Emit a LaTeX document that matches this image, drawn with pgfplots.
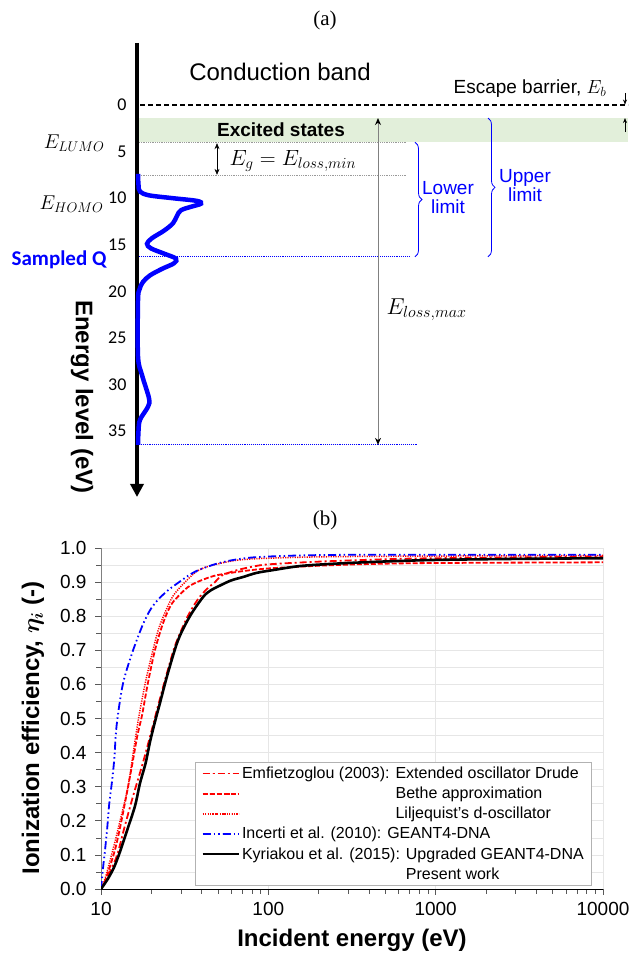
\RequirePackage{fix-cm}
\documentclass[border=0pt]{standalone}
\usepackage{amsmath}
\usepackage{pgfplots}
\pgfplotsset{compat=1.18}
\usepackage{pgfplotstable}
\usepackage{fontspec}
\setmainfont{Liberation Sans}
\newfontfamily\timesfont{Liberation Serif}
\newfontfamily\calibrifont{Carlito}
\usetikzlibrary{arrows.meta,decorations.pathreplacing}

\definecolor{bandgreen}{RGB}{226,239,218}
\definecolor{gridgray}{RGB}{230,230,230}
\definecolor{pureblue}{RGB}{0,0,255}
\definecolor{purered}{RGB}{255,0,0}

\newcommand\fs[1]{\fontsize{#1}{#1}\selectfont}

% density of states: w = offset from the energy axis, E = energy level (eV)
\pgfplotstableread{
w    E
1    7.4
1.5  8.6
3    9.3
12   9.7
35   10.0
60   10.3
64   10.6
55   10.9
44   11.3
40   11.9
36   12.7
27   13.5
15   14.3
10   14.9
14   15.4
28   16.0
39   16.5
37   17.0
25   17.6
13   18.3
6    19.0
2.5  19.8
1    21.0
1    27.0
5    29.0
12   31.5
11   32.4
3    33.8
1.5  35.0
1    36.5
}\dostable

% ionization efficiency versus incident energy (eV)
\pgfplotstableread{
E     eta
10    0
11.3  0.05
12.5  0.10
13.8  0.18
15.5  0.27
17.8  0.37
20.2  0.47
22    0.54
25    0.64
28    0.72
33    0.80
38    0.85
43    0.88
48    0.90
53    0.92
65    0.935
80    0.945
100   0.952
200   0.96
500   0.967
1000  0.97
10000 0.975
}\emfdrude

\pgfplotstableread{
E     eta
10    0
10.5  0.02
11.3  0.065
12.2  0.12
13    0.18
14    0.26
15.3  0.36
16.5  0.45
17.6  0.51
19    0.60
21    0.70
23.5  0.78
26    0.83
28.5  0.855
33    0.885
37.5  0.90
45    0.915
51.5  0.922
70    0.932
100   0.94
200   0.948
400   0.953
1000  0.956
10000 0.958
}\emfbethe

\pgfplotstableread{
E     eta
10    0
10.5  0.025
11    0.06
12    0.13
13    0.20
14.5  0.30
15.8  0.42
16.9  0.51
18.5  0.61
20.2  0.69
22    0.76
24.1  0.81
27    0.86
31.8  0.90
37    0.93
43    0.945
55    0.958
67.6  0.965
100   0.97
300   0.975
10000 0.978
}\emflilj

\pgfplotstableread{
E     eta
10    0
10.3  0.065
10.6  0.12
10.9  0.18
11.2  0.25
11.6  0.31
12    0.38
12.4  0.48
13.5  0.60
15.3  0.69
17.6  0.77
19.5  0.815
21.6  0.845
25    0.875
29.7  0.902
34    0.922
39    0.937
50    0.955
67.6  0.968
100   0.975
300   0.98
10000 0.98
}\incerti

\pgfplotstableread{
E     eta
10    0
11    0.03
12    0.065
13    0.11
14.5  0.18
16    0.245
17.1  0.31
18.5  0.37
19.6  0.43
21    0.49
22.5  0.545
25    0.63
28.9  0.73
34    0.80
40.7  0.856
45    0.875
51.5  0.89
60    0.905
70.7  0.915
85    0.927
106   0.935
154   0.947
250   0.954
468   0.96
1000  0.965
3000  0.968
10000 0.97
}\kyriakou

\begin{document}
\begin{tikzpicture}[x=1pt,y=1pt]
\useasboundingbox (0,0) rectangle (630,955);

% ---------------- (a) energy levels ----------------
\node[font=\timesfont\fs{21}] at (325,935) {(a)};
\node[font=\bfseries\fs{24}, rotate=-90] at (82,558) {Energy level (eV)};

\begin{axis}[
  at={(137pt,912pt)}, anchor=north west,
  scale only axis, width=491pt, height=454pt,
  xmin=0, xmax=491, ymin=-6.66, ymax=42.1, y dir=reverse,
  axis x line=none, axis y line=left,
  y axis line style={line width=3.5pt, -{Triangle[length=13pt,width=13pt]}},
  ytick={0,5,10,15,20,25,30,35}, major tick length=0pt,
  /pgf/number format/assume math mode=true,
  yticklabel style={font=\calibrifont\fs{18}, anchor=east, xshift=-7pt},
  clip=false,
]
  % excited-state band and escape level
  \fill[bandgreen] (axis cs:2,1.4) rectangle (axis cs:491,4.0);
  \addplot[black, line width=1.8pt, dash pattern=on 5pt off 3pt] coordinates {(3,0) (491,0)};
  % LUMO and gap edges
  \addplot[gray!80, line width=0.8pt, densely dotted] coordinates {(2,4.0) (270,4.0)};
  \addplot[gray!80, line width=0.8pt, densely dotted] coordinates {(2,7.6) (270,7.6)};
  % sampled and deepest loss levels
  \addplot[pureblue, line width=0.9pt, densely dotted] coordinates {(2,16.3) (272,16.3)};
  \addplot[pureblue, line width=0.9pt, densely dotted] coordinates {(2,36.5) (280,36.5)};
  % density of states
  \addplot[pureblue, line width=4.5pt, smooth, tension=0.55] table[x=w,y=E] {\dostable};

  \node[font=\fs{24}] at (axis cs:143,-3.5) {Conduction band};
  \node[font=\fs{19}, anchor=east] at (axis cs:473,-1.8) {Escape barrier, $E_b$};
  \draw[-{Stealth[length=5pt,width=4pt]}, line width=0.6pt] (axis cs:488,-1.3) -- (axis cs:488,-0.05);
  \draw[-{Stealth[length=5pt,width=4pt]}, line width=0.6pt] (axis cs:488,2.9) -- (axis cs:488,1.4);
  \node[font=\bfseries\fs{19}] at (axis cs:144,2.7) {Excited states};

  \draw[{Stealth[length=6pt,width=5pt]}-{Stealth[length=6pt,width=5pt]}, line width=0.7pt]
    (axis cs:80,4.1) -- (axis cs:80,7.5);
  \node[font=\fs{22}, anchor=west] at (axis cs:89,6.0) {$E_g = E_{loss,min}$};

  \draw[gray, line width=1pt, {Stealth[black,length=7pt,width=6pt]}-{Stealth[black,length=7pt,width=6pt]}]
    (axis cs:241,1.4) -- (axis cs:241,36.5);
  \node[font=\fs{23}, anchor=west] at (axis cs:246,22.0) {$E_{loss,max}$};

  \draw[pureblue, line width=0.8pt, decorate, decoration={brace, amplitude=7pt}]
    (axis cs:278,4.0) -- (axis cs:278,16.3);
  \node[pureblue, font=\fs{19}, align=center, inner sep=0pt] at (axis cs:311,9.9) {Lower\\limit};
  \draw[pureblue, line width=0.8pt, decorate, decoration={brace, amplitude=7pt}]
    (axis cs:351,1.4) -- (axis cs:351,16.3);
  \node[pureblue, font=\fs{19}, align=center, inner sep=0pt] at (axis cs:388,8.7) {Upper\\limit};

  \node[font=\fs{20}, anchor=east] at (axis cs:-29,4.1) {$E_{LUMO}$};
  \node[font=\fs{20}, anchor=east] at (axis cs:-30,10.7) {$E_{HOMO}$};
  \node[pureblue, font=\calibrifont\bfseries\fs{21}, anchor=east] at (axis cs:-27,16.6) {Sampled Q};
\end{axis}

% ---------------- (b) ionization efficiency ----------------
\node[font=\timesfont\fs{21}] at (325,435) {(b)};

\begin{axis}[
  at={(101pt,66pt)}, anchor=south west,
  scale only axis, width=502pt, height=341pt,
  xmode=log, xmin=10, xmax=10000, ymin=0, ymax=1,
  axis lines=left, axis line style={-, line width=0.8pt},
  x axis line style={black}, y axis line style={gray},
  xtick={10,100,1000,10000}, xticklabels={10,100,1000,10000},
  ytick={0,0.1,0.2,0.3,0.4,0.5,0.6,0.7,0.8,0.9,1.0},
  minor ytick={0.05,0.15,0.25,0.35,0.45,0.55,0.65,0.75,0.85,0.95},
  /pgf/number format/assume math mode=true,
  ticklabel style={font=\fs{19}},
  xticklabel style={yshift=-4pt},
  yticklabel style={xshift=-5pt, /pgf/number format/fixed,
    /pgf/number format/fixed zerofill, /pgf/number format/precision=1},
  tick align=outside, major tick length=6pt, minor tick length=5pt,
  tick style={gray!70!black, line width=0.6pt},
  xmajorgrids, ymajorgrids, yminorgrids,
  major grid style={gridgray, line width=0.6pt},
  minor grid style={gridgray, line width=0.6pt},
  xlabel={Incident energy (eV)},
  ylabel={Ionization efficiency, $\boldsymbol{\eta_i}$ (-)},
  label style={font=\bfseries\fs{24}},
  xlabel style={at={(axis description cs:0.5,-0.1496)}, anchor=center},
  ylabel style={at={(axis description cs:-0.1354,0.4721)}, anchor=center},
  legend style={at={(axis description cs:0.1873,0.0088)}, anchor=south west,
    draw=gray!60, line width=0.8pt, fill=white,
    font=\fs{16}, inner xsep=6pt, inner ysep=3pt, row sep=3pt},
  legend cell align=left,
  legend image code/.code={%
    \draw[mark repeat=2,mark phase=2,#1] plot coordinates {(0pt,0pt) (18pt,0pt) (36pt,0pt)};},
]
  \addplot[purered, line width=1.8pt, dash pattern=on 7pt off 3pt on 2pt off 3pt, smooth] table[x=E,y=eta] {\emfdrude};
  \addlegendentry{Emfietzoglou (2003): Extended oscillator Drude}
  \addplot[purered, line width=1.8pt, dash pattern=on 5pt off 2pt, smooth] table[x=E,y=eta] {\emfbethe};
  \addlegendentry{\phantom{Emfietzoglou (2003): }Bethe approximation}
  \addplot[purered, line width=1.5pt, dash pattern=on 1.2pt off 1.2pt, smooth] table[x=E,y=eta] {\emflilj};
  \addlegendentry{\phantom{Emfietzoglou (2003): }Liljequist's d-oscillator}
  \addplot[pureblue, line width=1.8pt, dash pattern=on 8pt off 3pt on 1.5pt off 3pt on 1.5pt off 3pt, smooth] table[x=E,y=eta] {\incerti};
  \addlegendentry{Incerti et al. (2010): GEANT4-DNA}
  \addplot[black, line width=2.6pt, smooth] table[x=E,y=eta] {\kyriakou};
  \addlegendentry{Kyriakou et al. (2015): Upgraded GEANT4-DNA}
  \addlegendimage{draw=white, opacity=0, line width=0pt}
  \addlegendentry{\phantom{Kyriakou et al. (2015): }Present work}
\end{axis}
\end{tikzpicture}
\end{document}
